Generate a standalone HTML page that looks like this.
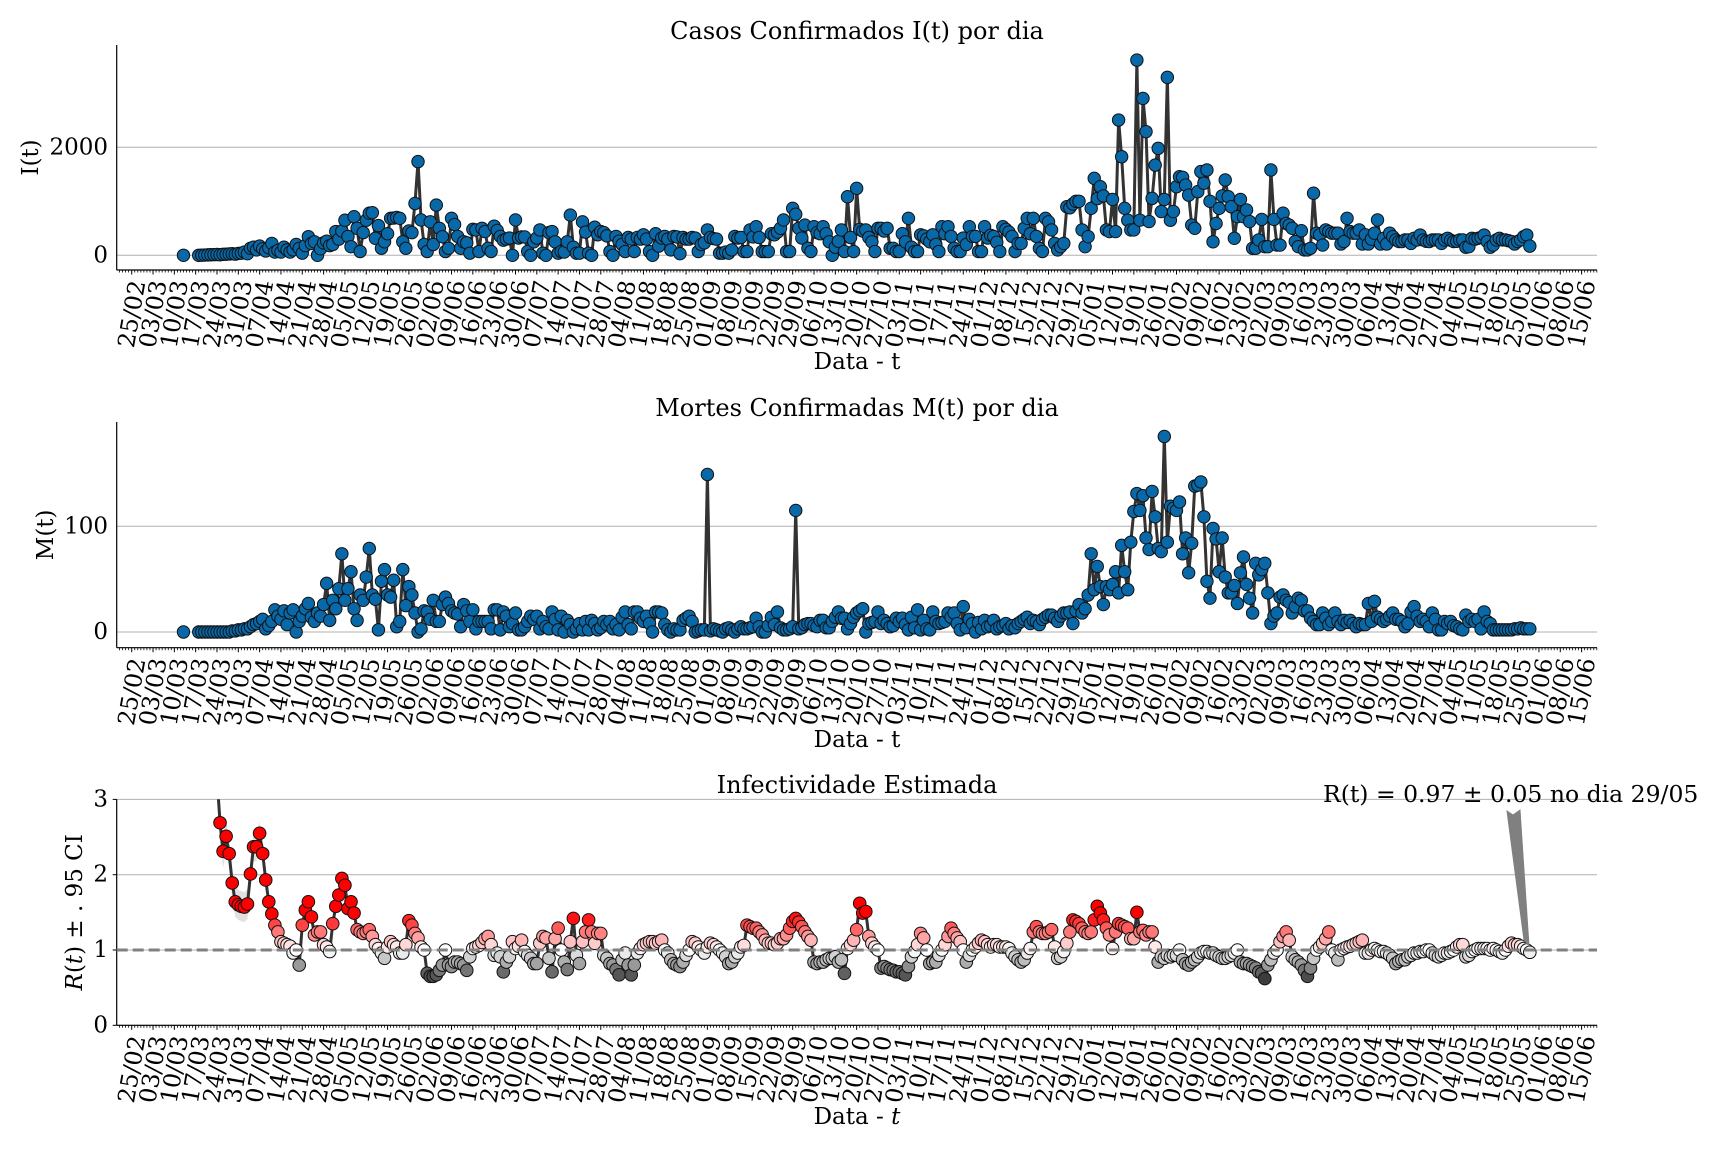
<!DOCTYPE html>
<html><head><meta charset="utf-8">
<style>
html,body{margin:0;padding:0;background:#fff;}
svg{display:block;font-family:"DejaVu Serif","Liberation Serif",serif;}
</style></head>
<body>
<svg id="fig" width="1728" height="1152" viewBox="0 0 1728 1152" xmlns="http://www.w3.org/2000/svg">
<defs><clipPath id="clipR"><rect x="116.7" y="799.3" width="1480.3" height="226"/></clipPath></defs>
<rect width="1728" height="1152" fill="#fff"/>
<g id="p1"></g>
<g id="p2"></g>
<g id="p3"></g>
</svg>
<script>
// ---- data ----
const casesFirstDay = 17;
const casesValues = [0,null,null,null,null,
0,2,5,8,10,12,15, 10,18,20,25,30,22,35, 40,60,30,130,150,100,170, 120,80,140,220,60,90,60,
150,100,60,100,200,130,40, 180,345,220,250,0,120,230, 260,180,200,440,300,450,650, 350,160,715,500,70,420,650,
780,790,315,550,130,250,400, 685,690,700,685,250,130,450, 420,960,1735,655,200,70,620, 200,930,500,345,70,130,685,
570,350,130,250,230,40,480, 470,70,500,440,130,70,540, 460,350,280,300,320,0,655, 320,340,340,70,0,250,320,
470,40,0,420,440,250,40, 70,60,250,745,150,40,40, 620,430,40,0,520,380,440, 420,360,70,0,350,260,200,
70,330,300,70,330,300,380, 300,70,0,400,170,320,350, 300,100,350,340,30,330,300, 300,330,320,70,200,230,470,
330,310,300,40,40,60,40, 100,350,320,330,70,70,470, 340,530,330,70,70,70,400, 380,430,500,655,70,70,870,
760,500,320,560,130,70,530, 420,400,530,400,250,0,150, 260,470,70,1085,330,70,1240, 480,450,470,330,250,70,500,
500,450,500,130,130,70,70, 400,250,685,150,70,70,380, 360,300,250,380,200,70,530, 400,530,350,130,70,70,320,
200,530,350,350,70,70,530, 320,370,350,240,70,530,480, 430,350,70,220,220,500,685, 400,685,350,130,70,685,620,
470,220,100,160,220,900,880, 950,1000,1000,470,160,345,870, 1425,1050,1270,1100,470,440,1035,
440,2505,1825,870,650,470,470, 3615,650,2905,2290,625,1055,1670, 1980,810,1035,3295,650,810,1270,
1455,1445,1300,1115,560,500,1180, 1550,1335,1580,1000,250,590,870, 1100,1395,1085,900,315,715,1035,
715,840,625,130,130,285,665, 160,160,1580,665,190,190,780, 590,560,500,255,160,455,100,
100,130,1150,410,380,190,470, 440,410,410,410,210,255,685, 440,410,410,470,210,380,210,
300,410,655,210,315,210,410, 345,285,255,255,285,285,220, 315,285,375,285,260,255,285,
285,285,220,285,315,280,255, 260,285,285,150,160,315,300, 315,330,375,255,150,190,285,
315,285,285,270,255,210,255, 285,345,375,170];

const deathsFirstDay = 17;
const deathsValues = [0,null,null,null,null,
0,0,0,0,0,0,0, 0,0,0,0,1,1,2, 2,3,3,5,7,8,10, 12,3,6,10,21,15,12,
20,7,18,21,0,10,15, 22,27,14,10,18,15,26, 46,11,30,22,41,74,30, 41,57,22,11,35,30,52,
79,35,31,2,48,59,35, 33,49,5,10,59,25,43, 35,18,0,3,20,19,12, 30,10,10,26,33,27,20,
18,17,5,26,20,10,21, 3,10,10,10,10,3,21, 21,2,19,15,5,8,18, 2,2,5,10,15,12,15,
3,10,5,3,19,12,2, 15,0,11,7,0,3,8, 2,10,2,11,8,2,4, 10,7,10,3,7,2,14,
19,7,3,19,19,13,10, 15,8,0,19,19,18,7, 2,0,3,2,2,11,13, 15,10,0,1,2,2,149,
1,3,2,1,0,3,4, 2,0,3,5,3,3,4, 5,13,5,0,0,6,14, 7,19,4,2,2,3,5,
115,3,4,7,8,8,6, 5,11,11,4,4,10,14, 19,13,13,3,8,14,18, 20,22,0,8,9,10,19,
8,11,8,5,6,13,10, 13,7,2,14,4,21,2, 11,3,2,19,10,8,9, 10,18,14,18,8,2,24,
4,12,8,0,9,3,11, 5,6,11,3,5,6,8, 3,6,4,8,10,12,14, 8,11,10,7,12,14,16,
16,13,10,15,18,18,19, 8,20,26,18,22,35,74, 40,62,43,26,43,40,45,
57,37,82,57,40,85,114, 131,115,129,89,78,133,109, 79,76,185,85,119,117,115,
123,74,89,56,84,138,139, 142,109,48,32,98,88,57, 89,52,37,37,44,27,56,
71,45,32,18,65,54,59, 65,37,8,15,18,33,35, 30,28,18,24,32,30,20,
20,13,10,7,7,18,13, 7,10,18,10,7,11,9, 11,8,5,8,7,7,27,
10,29,14,12,10,12,15, 18,12,12,10,5,8,19, 24,15,10,12,10,5,18,
12,2,2,10,8,10,6, 5,3,2,16,10,12,10, 12,3,19,10,8,2,2,
2,2,2,2,2,3,3, 4,3,3,3];

const rtFirstDay = 28;
const rtValues = [3.3,2.69,2.31,2.51,2.28,1.89,1.64, 1.60,1.58,1.57,1.61,2.01,2.37,2.37,
2.55,2.28,1.93,1.64,1.48,1.33,1.24, 1.11,1.09,1.07,1.05,0.96,1.0,0.80,
1.33,1.53,1.64,1.44,1.20,1.24,1.24, 1.07,1.04,0.98,1.35,1.58,1.73,1.95,
1.86,1.55,1.64,1.49,1.27,1.24,1.22, 1.24,1.27,1.18,1.07,1.02,0.96,0.89,
1.04,1.11,1.07,1.04,0.96,0.96,1.07, 1.39,1.33,1.22,1.16,1.04,1.0,0.69,
0.65,0.65,0.67,0.73,0.80,1.0,0.80, 0.78,0.84,0.84,0.82,0.80,0.73,0.91,
1.02,1.04,1.06,1.10,1.15,1.18,1.07, 0.93,0.96,0.91,0.71,0.84,0.91,1.11,
1.02,1.05,1.13,0.98,0.93,0.89,0.82, 0.82,1.09,1.18,1.16,0.89,0.71,1.15,
1.29,1.0,0.84,0.74,1.11,1.42,0.93, 0.82,1.11,1.24,1.40,1.24,1.09,1.22,
1.22,0.93,0.89,0.82,0.80,0.74,0.67, 0.87,0.96,0.80,0.67,0.80,0.96,1.02,
1.07,1.09,1.11,1.11,1.09,1.11,1.13, 1.0,0.96,0.87,0.82,0.80,0.78,0.84,
0.93,1.0,1.11,1.09,1.04,1.0,0.96, 1.04,1.09,1.07,1.04,1.0,0.96,0.91,
0.82,0.84,0.91,0.96,1.04,1.06,1.33, 1.31,1.29,1.29,1.24,1.20,1.13,1.09,
1.09,1.07,1.09,1.15,1.15,1.20,1.29, 1.38,1.42,1.37,1.31,1.24,1.18,1.13,
0.84,0.82,0.84,0.84,0.87,0.89,0.89, 0.91,0.84,0.87,0.69,1.02,1.07,1.13,
1.27,1.62,1.49,1.51,1.18,1.09,1.04, 1.0,0.76,0.78,0.76,0.74,0.73,0.71,
0.71,0.69,0.67,0.78,0.91,0.98,1.07, 1.22,1.16,1.0,0.82,0.84,0.84,0.93,
1.0,1.07,1.18,1.29,1.22,1.16,1.11, 1.0,0.84,0.93,1.0,1.04,1.09,1.13,
1.11,1.07,1.04,1.07,1.07,1.04,1.04, 1.04,1.02,0.96,0.91,0.87,0.84,0.87,
0.96,1.02,1.24,1.31,1.24,1.22,1.22, 1.24,1.27,1.04,0.89,0.91,0.98,1.09,
1.24,1.40,1.38,1.35,1.29,1.24,1.22, 1.24,1.40,1.58,1.49,1.40,1.29,1.20,
1.02,1.24,1.35,1.33,1.31,1.29,1.15, 1.15,1.50,1.24,1.26,1.20,1.24,1.24,
1.04,0.84,0.91,0.89,0.93,0.91,0.93, 0.93,1.0,0.87,0.82,0.80,0.84,0.87,
0.91,0.96,0.98,0.98,0.96,0.96,0.93, 0.91,0.89,0.89,0.91,0.93,0.96,1.0,
0.84,0.82,0.82,0.80,0.78,0.76,0.71, 0.69,0.62,0.80,0.87,0.96,1.0,1.11,
1.18,1.24,1.13,0.91,0.87,0.84,0.80, 0.73,0.65,0.76,0.89,1.0,1.04,1.09,
1.15,1.24,1.0,0.96,0.87,1.0,1.02, 1.04,1.05,1.07,1.09,1.11,1.13,0.96,
0.96,1.0,1.02,1.0,0.98,0.98,0.96, 0.93,0.89,0.82,0.85,0.87,0.87,0.91,
0.93,0.96,0.96,0.98,0.98,1.0,1.0, 0.96,0.93,0.91,0.93,0.96,0.96,0.98,
1.0,1.04,1.07,1.07,0.91,0.93,0.98, 1.0,1.02,1.02,1.02,1.02,1.0,1.02,
1.0,0.98,0.96,1.0,1.05,1.09,1.07, 1.07,1.05,1.02,1.0,0.97];
const rtErr = [0.3,0.25,0.22,0.2,0.2,0.2,0.2,0.2,0.2,0.2,0.2,0.2,0.2,0.18,0.16,0.14,0.12,0.1];
const yTicks1 = [0, 2000];
const yTicks2 = [0, 100];
const yTicks3 = [0, 1, 2, 3];
const tickStartDay = 0, tickEndDay = 476;
const startDate = [2020, 1, 25]; // 25/02/2020

// ---- axis functions ----
const X0 = 116.7, X1 = 1597;
function xOf(d){ return 131.7 + 3.046*d; }
const y1 = v => 255.3 - 0.054*v;
const y2 = v => 632 - 1.057*v;
const y3 = v => 1025.3 - 75.3*v;

const NS = "http://www.w3.org/2000/svg";
function el(tag, attrs, parent){
  const e = document.createElementNS(NS, tag);
  for (const k in attrs) e.setAttribute(k, attrs[k]);
  parent.appendChild(e); return e;
}
function fmtDate(d){
  const dt = new Date(Date.UTC(startDate[0], startDate[1], startDate[2] + d));
  const dd = String(dt.getUTCDate()).padStart(2,'0');
  const mm = String(dt.getUTCMonth()+1).padStart(2,'0');
  return dd + '/' + mm;
}

function axes(g, yTop, ySpine, yfun, ticks, title, titleY, ylabel, ylabelX, xlabelY, italicT){
  ticks.forEach(t=>{
    const gl = el('line',{x1:X0,x2:X1,y1:yfun(t),y2:yfun(t),stroke:'#b0b0b0','stroke-width':1},g);
    
    
    const tl = el('text',{x:108,y:yfun(t),'text-anchor':'end','dominant-baseline':'central','font-size':23,fill:'#000'},g);
    
    
    tl.textContent = t;
  });
  const ls = el('line',{x1:X0,x2:X0,y1:yTop,y2:ySpine,stroke:'#000','stroke-width':1.2},g);
  
  
  const bs = el('line',{x1:X0,x2:X1,y1:ySpine,y2:ySpine,stroke:'#000','stroke-width':1.2},g);
  
  
  for (let d=-4; d<=481; d++){
    const major = (d-tickStartDay)%7===0 && d>=tickStartDay && d<=tickEndDay;
    const tk = el('line',{x1:xOf(d),x2:xOf(d),y1:ySpine,y2:ySpine+(major?4.5:2.5),stroke:'#000','stroke-width':major?1:0.8},g);
    
    
    if (major){
      const cy = ySpine + 44;
      const lb = el('text',{transform:`translate(${xOf(d)},${cy}) rotate(-80)`,'text-anchor':'middle','dominant-baseline':'central','font-size':23.5,fill:'#000'},g);
      
      
      lb.textContent = fmtDate(d);
    }
  }
  const tt = el('text',{x:857,y:titleY,'text-anchor':'middle','dominant-baseline':'central','font-size':24,fill:'#000'},g);
  
  
  tt.textContent = title;
  const xl = el('text',{x:857,y:xlabelY,'text-anchor':'middle','dominant-baseline':'central','font-size':23,fill:'#000'},g);
  
  
  if (italicT){ xl.innerHTML = 'Data - <tspan font-style="italic">t</tspan>'; } else { xl.textContent = 'Data - t'; }
  const yl = el('text',{transform:`translate(${ylabelX},${(yTop+ySpine)/2}) rotate(-90)`,'text-anchor':'middle','dominant-baseline':'central','font-size':23,fill:'#000'},g);
  
  
  yl.innerHTML = ylabel;
}

function series(g, first, vals, yfun, name){
  let path = '', pen = false;
  vals.forEach((v,i)=>{
    if (v===null){ pen=false; return; }
    path += (pen?'L':'M') + xOf(first+i).toFixed(2) + ',' + yfun(v).toFixed(2);
    pen = true;
  });
  const ln = el('path',{d:path,fill:'none',stroke:'#333','stroke-width':3,'stroke-linejoin':'round'},g);
  
  
  vals.forEach((v,i)=>{
    if (v===null) return;
    const c = el('circle',{cx:xOf(first+i),cy:yfun(v),r:6.2,fill:'#0868a8',stroke:'#111','stroke-width':1},g);
    
    
  });
}

const p1 = document.getElementById('p1');
axes(p1, 45, 270, y1, yTicks1, 'Casos Confirmados I(t) por dia', 31, 'I(t)', 31, 362, false);
series(p1, casesFirstDay, casesValues, y1, 'cases');

const p2 = document.getElementById('p2');
axes(p2, 422, 647.7, y2, yTicks2, 'Mortes Confirmadas M(t) por dia', 408, 'M(t)', 46, 740, false);
series(p2, deathsFirstDay, deathsValues, y2, 'deaths');

const p3 = document.getElementById('p3');
axes(p3, 799.3, 1025.3, y3, yTicks3, 'Infectividade Estimada', 785, '<tspan font-style="italic">R</tspan>(<tspan font-style="italic">t</tspan>) ± . 95 CI', 75, 1117, true);
yTicks3.forEach(t=>{
  const tk = el('line',{x1:X0-4,x2:X0,y1:y3(t),y2:y3(t),stroke:'#000','stroke-width':1},p3);
  
  
});
const clipG = el('g',{'clip-path':'url(#clipR)'},p3);


let up='', lo='';
rtValues.forEach((v,i)=>{
  const e = rtErr[i] !== undefined ? rtErr[i] : 0.05;
  up += (i?'L':'M') + xOf(rtFirstDay+i).toFixed(2) + ',' + y3(v+e).toFixed(2);
});
for (let i=rtValues.length-1;i>=0;i--){
  const e = rtErr[i] !== undefined ? rtErr[i] : 0.05;
  lo += 'L' + xOf(rtFirstDay+i).toFixed(2) + ',' + y3(rtValues[i]-e).toFixed(2);
}
const band = el('path',{d:up+lo+'Z',fill:'#d9d9d9','fill-opacity':0.8,stroke:'none'},clipG);


const ref = el('line',{x1:X0,x2:X1,y1:y3(1),y2:y3(1),stroke:'#808080','stroke-width':3,'stroke-dasharray':'11,5'},p3);


let rp='';
rtValues.forEach((v,i)=>{ rp += (i?'L':'M') + xOf(rtFirstDay+i).toFixed(2) + ',' + y3(v).toFixed(2); });
const rl = el('path',{d:rp,fill:'none',stroke:'#333','stroke-width':3,'stroke-linejoin':'round'},clipG);


function rtColor(v){
  if (v>=1){ const t=Math.min(1,(v-1)/0.45); const c=Math.round(255*(1-t)); return `rgb(255,${c},${c})`; }
  const t=Math.min(1,(1-v)/0.4); const g=Math.round(255*(1-t)+50*t); return `rgb(${g},${g},${g})`;
}
rtValues.forEach((v,i)=>{
  const c = el('circle',{cx:xOf(rtFirstDay+i),cy:y3(v),r:6.3,fill:rtColor(v),stroke:'#111','stroke-width':1},clipG);
  
  
});
const arrow = el('polygon',{points:'1507,811 1513,815 1520,810 1529,946 1524,940',fill:'#808080',stroke:'#808080','stroke-width':1},p3);


const ann = el('text',{x:1323,y:794,'font-size':23.5,fill:'#000','dominant-baseline':'central'},p3);


ann.textContent = 'R(t) = 0.97 ± 0.05 no dia 29/05';
</script>
</body></html>
